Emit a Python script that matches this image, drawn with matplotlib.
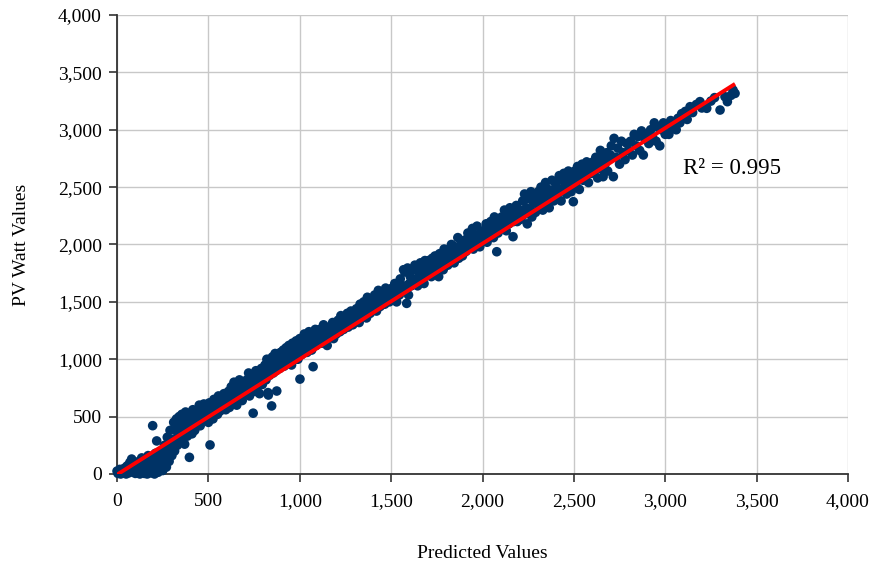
import matplotlib
matplotlib.use("Agg")
import matplotlib.pyplot as plt
from matplotlib.ticker import FuncFormatter

predicted_values = [
    0, 5, 10, 15, 20, 25, 30, 40, 45, 50, 55, 60, 65, 70, 75, 80, 85, 90, 95, 100,
    105, 110, 115, 120, 125, 130, 135, 140, 145, 150, 155, 160, 165, 170, 175, 180, 185, 190, 195, 200,
    205, 210, 215, 217, 220, 225, 230, 235, 240, 245, 250, 255, 260, 265, 270, 275, 280, 285, 290, 295, 300,
    305, 310, 315, 320, 325, 330, 335, 340, 345, 350, 355, 360, 365, 370, 375, 380, 385, 390, 396, 400,
    405, 410, 415, 420, 425, 430, 440, 445, 450, 455, 460, 465, 470, 475, 480, 485, 490, 495, 500, 505,
    509, 515, 520, 525, 530, 540, 545, 550, 555, 560, 565, 570, 575, 580, 585, 590, 595, 600,
    605, 610, 615, 620, 625, 630, 635, 640, 645, 650, 655, 660, 665, 670, 675, 680, 685, 690, 695, 700,
    705, 710, 715, 720, 725, 730, 735, 740, 745, 750, 755, 760, 765, 770, 775, 780, 785, 790, 795, 800,
    805, 810, 815, 820, 826, 828, 830, 835, 840, 846, 850, 855, 860, 865, 870, 874, 880, 885, 890, 895, 900,
    905, 910, 915, 920, 925, 930, 935, 940, 945, 950, 955, 960, 965, 970, 975, 980, 985, 990, 995, 1000,
    1001, 1005, 1010, 1015, 1020, 1025, 1030, 1040, 1045, 1050, 1055, 1060, 1065, 1070, 1073, 1080, 1085, 1090, 1095, 1100,
    1105, 1110, 1120, 1125, 1130, 1140, 1145, 1150, 1160, 1165, 1170, 1180, 1185, 1190, 1200,
    1205, 1210, 1220, 1225, 1230, 1240, 1245, 1250, 1260, 1265, 1270, 1280, 1285, 1290, 1300,
    1305, 1310, 1320, 1325, 1330, 1340, 1345, 1350, 1360, 1365, 1370, 1380, 1385, 1390, 1400,
    1405, 1410, 1420, 1425, 1430, 1440, 1445, 1450, 1460, 1465, 1470, 1480, 1485, 1490, 1500,
    1505, 1510, 1520, 1525, 1530, 1540, 1545, 1550, 1560, 1568, 1575, 1580, 1585, 1590, 1595, 1600,
    1605, 1610, 1620, 1625, 1630, 1640, 1645, 1650, 1660, 1665, 1670, 1680, 1685, 1690, 1700,
    1705, 1710, 1720, 1725, 1730, 1740, 1745, 1750, 1760, 1765, 1770, 1780, 1785, 1790, 1800,
    1805, 1810, 1820, 1825, 1830, 1840, 1845, 1850, 1860, 1865, 1870, 1880, 1885, 1890, 1900,
    1905, 1910, 1920, 1925, 1930, 1940, 1945, 1950, 1960, 1965, 1970, 1980, 1985, 1990, 2000,
    2005, 2010, 2020, 2025, 2030, 2040, 2045, 2050, 2060, 2065, 2070, 2078, 2085, 2090, 2100,
    2105, 2110, 2120, 2125, 2130, 2140, 2145, 2150, 2160, 2167, 2170, 2180, 2185, 2190, 2200,
    2205, 2210, 2220, 2225, 2230, 2240, 2245, 2250, 2260, 2265, 2270, 2280, 2285, 2290, 2300,
    2305, 2310, 2320, 2325, 2330, 2340, 2345, 2350, 2360, 2365, 2370, 2380, 2385, 2390, 2400,
    2405, 2410, 2420, 2425, 2430, 2440, 2445, 2450, 2460, 2465, 2470, 2480, 2485, 2490, 2497, 2500,
    2505, 2510, 2520, 2525, 2530, 2540, 2545, 2550, 2560, 2565, 2570, 2580, 2585, 2590, 2600,
    2605, 2610, 2620, 2625, 2630, 2640, 2645, 2650, 2660, 2665, 2670, 2680, 2685, 2690, 2700,
    2705, 2716, 2720, 2730, 2740, 2750, 2760, 2770, 2780, 2790, 2800,
    2810, 2820, 2830, 2840, 2850, 2860, 2870, 2880, 2890, 2900,
    2910, 2920, 2930, 2940, 2950, 2960, 2970, 2980, 2990, 3000,
    3010, 3020, 3030, 3040, 3050, 3060, 3070, 3080, 3090, 3100,
    3110, 3120, 3136, 3150, 3170, 3190, 3200, 3227, 3250, 3270, 3300, 3327, 3340, 3360, 3371, 3382,
]
pv_watt_values = [
    25, 5, 15, 40, 0, 30, 10, 50, 20, 0, 70, 35, 10, 100, 55, 130, 20, 85, 45, 5,
    10, 60, 30, 110, 0, 45, 140, 20, 80, 5, 120, 50, 0, 160, 35, 90, 10, 150, 421, 25,
    0, 180, 40, 288, 100, 15, 160, 60, 120, 200, 30, 90, 250, 150, 60, 320, 200, 110, 380, 260, 160,
    300, 450, 200, 380, 480, 250, 340, 500, 420, 300, 520, 380, 460, 260, 540, 400, 330, 490, 145, 430,
    520, 350, 560, 440, 380, 500, 550, 470, 600, 420, 520, 580, 470, 610, 540, 480, 590, 520, 450, 620,
    253, 540, 600, 480, 650, 560, 620, 520, 680, 600, 550, 660, 640, 580, 700, 620, 560, 690,
    640, 720, 580, 680, 760, 620, 700, 800, 660, 730, 600, 780, 700, 820, 680, 750, 640, 800, 720, 770,
    700, 820, 760, 880, 680, 800, 740, 860, 530, 780, 720, 900, 820, 760, 880, 700, 840, 920, 780, 860,
    880, 950, 820, 1000, 709, 688, 900, 860, 960, 593, 1020, 880, 940, 1050, 900, 723, 980, 1000, 920, 1060, 960,
    1000, 1080, 940, 1040, 1100, 980, 1060, 1120, 1000, 1080, 950, 1140, 1030, 1100, 1000, 1160, 1060, 1000, 1120, 1180,
    827, 1100, 1040, 1180, 1080, 1220, 1120, 1060, 1160, 1240, 1100, 1180, 1080, 1200, 935, 1140, 1260, 1120, 1200, 1170,
    1160, 1260, 1140, 1220, 1300, 1180, 1250, 1120, 1280, 1200, 1240, 1320, 1180, 1260, 1220,
    1280, 1340, 1240, 1380, 1300, 1260, 1360, 1320, 1400, 1280, 1350, 1420, 1330, 1300, 1390,
    1360, 1440, 1400, 1320, 1480, 1380, 1420, 1500, 1440, 1360, 1540, 1460, 1400, 1500, 1430,
    1480, 1560, 1420, 1520, 1600, 1460, 1550, 1500, 1580, 1480, 1620, 1540, 1600, 1500, 1560,
    1620, 1540, 1660, 1580, 1500, 1640, 1560, 1700, 1620, 1780, 1760, 1640, 1487, 1795, 1560, 1660,
    1720, 1640, 1780, 1680, 1820, 1700, 1640, 1760, 1840, 1700, 1780, 1660, 1860, 1740, 1800,
    1860, 1760, 1720, 1880, 1800, 1900, 1760, 1840, 1720, 1920, 1820, 1880, 1780, 1960, 1860,
    1900, 1820, 1960, 1860, 2000, 1900, 1840, 1980, 1920, 2060, 1880, 1960, 2020, 1900, 1980,
    2040, 1940, 2100, 1980, 2060, 2000, 2140, 1960, 2080, 2020, 2160, 2040, 1980, 2100, 2060,
    2120, 2060, 2180, 2020, 2140, 2080, 2200, 2120, 2060, 2240, 2160, 1937, 2100, 2200, 2160,
    2240, 2160, 2300, 2200, 2120, 2260, 2180, 2320, 2240, 2068, 2200, 2280, 2340, 2200, 2260,
    2300, 2220, 2380, 2260, 2440, 2320, 2180, 2400, 2300, 2460, 2240, 2360, 2420, 2280, 2400,
    2460, 2340, 2500, 2400, 2300, 2440, 2540, 2380, 2480, 2320, 2420, 2560, 2460, 2380, 2500,
    2540, 2440, 2600, 2480, 2380, 2560, 2620, 2500, 2440, 2580, 2640, 2520, 2460, 2600, 2373, 2560,
    2640, 2520, 2680, 2580, 2480, 2620, 2700, 2560, 2660, 2600, 2720, 2540, 2680, 2620, 2700,
    2720, 2620, 2760, 2680, 2580, 2740, 2820, 2660, 2591, 2780, 2700, 2800, 2640, 2740, 2780,
    2860, 2591, 2925, 2760, 2840, 2700, 2900, 2800, 2740, 2880, 2820,
    2900, 2780, 2960, 2860, 2940, 2820, 2990, 2780, 2920, 2960,
    2880, 3000, 2940, 3060, 2900, 3020, 2860, 3000, 3060, 2960,
    3040, 2960, 3080, 3010, 3060, 3000, 3100, 3060, 3140, 3120,
    3160, 3090, 3201, 3150, 3220, 3245, 3190, 3187, 3250, 3280, 3172, 3288, 3245, 3300, 3346, 3317,
]

# linear trendline as shown on the chart
trend_slope = 1.007
trend_intercept = -6
r_squared = 0.995

axis_ticks = [0, 500, 1000, 1500, 2000, 2500, 3000, 3500, 4000]

plt.rcParams['font.family'] = ['Liberation Serif', 'DejaVu Serif']

fig = plt.figure(figsize=(8.78, 5.69), dpi=100)
ax = fig.add_axes([0.1333, 0.167, 0.8325, 0.8066])

ax.scatter(predicted_values, pv_watt_values, s=48, color='#003366',
           edgecolors='none', zorder=3, clip_on=False)

x0, x1 = min(predicted_values), max(predicted_values)
ax.plot([x0, x1], [trend_slope * x0 + trend_intercept, trend_slope * x1 + trend_intercept],
        color='#FF0000', linewidth=2.8, zorder=4, solid_capstyle='butt')

ax.text(3095, 2660, f"R\u00b2 = {r_squared:.3f}", fontsize=16.5, ha='left', va='center')

ax.set_xlim(0, 4000)
ax.set_ylim(0, 4000)
ax.set_xticks(axis_ticks)
ax.set_yticks(axis_ticks)
fmt = FuncFormatter(lambda v, p: f"{int(v):,}")
ax.xaxis.set_major_formatter(fmt)
ax.yaxis.set_major_formatter(fmt)
ax.grid(True, color='#C8C8C8', linewidth=1.0, zorder=0)
ax.set_axisbelow(True)

for side in ['top', 'right']:
    ax.spines[side].set_visible(False)
for side in ['left', 'bottom']:
    ax.spines[side].set_color('#333333')
    ax.spines[side].set_linewidth(1.3)

ax.tick_params(axis='both', direction='out', length=6, width=1.2, colors='#333333',
               labelcolor='black', labelsize=14)
ax.tick_params(axis='x', pad=8)
ax.tick_params(axis='y', pad=5)

ax.set_xlabel('Predicted Values', fontsize=14)
ax.set_ylabel('PV Watt Values', fontsize=14)
ax.xaxis.set_label_coords(0.5, -0.155)
ax.yaxis.set_label_coords(-0.119, 0.5)

fig.savefig('out.png', dpi=100)
